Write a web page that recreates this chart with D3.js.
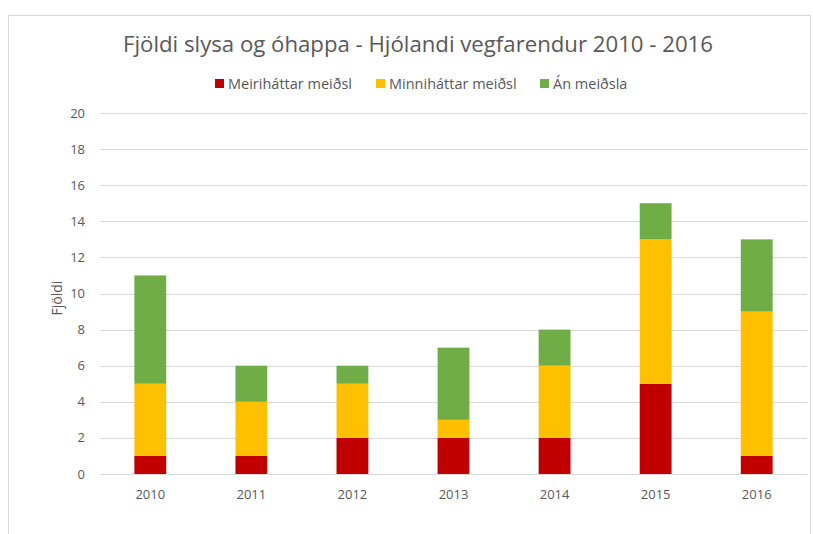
<!DOCTYPE html>
<html lang="en">
<head>
<meta charset="UTF-8">
<title>Fjöldi slysa og óhappa</title>
<script src="https://d3js.org/d3.v7.min.js"></script>
<style>
  html, body { margin: 0; padding: 0; background: #fff; }
  svg { display: block; }
  text { font-family: "Open Sans", sans-serif; fill: #595959; }
</style>
</head>
<body>
<svg id="canvas" width="813" height="534"></svg>
<script>
// chart data
const years = ["2010", "2011", "2012", "2013", "2014", "2015", "2016"];
const seriesNames = ["Meiriháttar meiðsl", "Minniháttar meiðsl", "Án meiðsla"];
const meirihattar = [1, 1, 2, 2, 2, 5, 1];
const minnihattar = [4, 3, 3, 1, 4, 8, 8];
const anMeidsla = [6, 2, 1, 4, 2, 2, 4];
const yTicks = [0, 2, 4, 6, 8, 10, 12, 14, 16, 18, 20];
const colors = ["#C00000", "#FFC000", "#70AD47"];

const rows = years.map((y, i) => ({
  year: y,
  [seriesNames[0]]: meirihattar[i],
  [seriesNames[1]]: minnihattar[i],
  [seriesNames[2]]: anMeidsla[i]
}));

const svg = d3.select('#canvas');

// outer chart border
svg.append('rect')
  .attr('x', 8.5).attr('y', 15.5)
  .attr('width', 802).attr('height', 530)
  .attr('fill', 'none').attr('stroke', '#d9d9d9');

const plotLeft = 100, plotRight = 807, plotTop = 113, plotBottom = 474;

let x = d3.scaleBand().domain(years).range([plotLeft, plotRight]).paddingInner(0.685).paddingOuter(0.34);
let y = d3.scaleLinear().domain([0, 20]).range([plotBottom, plotTop]);

// gridlines
svg.append('g')
  .selectAll('line')
  .data(yTicks)
  .enter()
  .append('line')
  .attr('x1', plotLeft).attr('x2', plotRight)
  .attr('y1', d => Math.round(y(d)) + 0.5)
  .attr('y2', d => Math.round(y(d)) + 0.5)
  .attr('stroke', '#d9d9d9')
  .attr('stroke-width', 1);

// y tick labels
svg.append('g')
  .selectAll('text')
  .data(yTicks)
  .enter()
  .append('text')
  .attr('x', 85)
  .attr('y', d => y(d))
  .attr('dy', '0.35em')
  .attr('text-anchor', 'end')
  .attr('font-size', 13)
  .attr('fill', '#666')
  .text(d => d);

// stacked bars
let stacked = d3.stack().keys(seriesNames)(rows);
svg.append('g')
  .selectAll('g')
  .data(stacked)
  .enter()
  .append('g')
  .attr('fill', (d, i) => colors[i])
  .selectAll('rect')
  .data(d => d)
  .enter()
  .append('rect')
  .attr('x', d => x(d.data.year))
  .attr('width', x.bandwidth())
  .attr('y', d => y(d[1]))
  .attr('height', d => y(d[0]) - y(d[1]));

// x axis labels
svg.append('g')
  .selectAll('text')
  .data(years)
  .enter()
  .append('text')
  .attr('x', d => x(d) + x.bandwidth() / 2)
  .attr('y', 499)
  .attr('text-anchor', 'middle')
  .attr('font-size', 13)
  .attr('fill', '#666')
  .text(d => d);

// y axis title
svg.append('text')
  .attr('transform', 'translate(62,298) rotate(-90)')
  .attr('text-anchor', 'middle')
  .attr('font-size', 14)
  .attr('fill', '#404040')
  .text('Fjöldi');

// chart title
svg.append('text')
  .attr('x', 418)
  .attr('y', 52)
  .attr('text-anchor', 'middle')
  .attr('font-size', 22.2)
  .text('Fjöldi slysa og óhappa - Hjólandi vegfarendur 2010 - 2016');

// legend
const legendX = [215, 376, 540];
let legend = svg.append('g')
  .selectAll('g')
  .data(seriesNames)
  .enter()
  .append('g')
  .attr('transform', (d, i) => `translate(${legendX[i]},84)`);
legend.append('rect')
  .attr('x', 0).attr('y', -5)
  .attr('width', 9).attr('height', 9)
  .attr('fill', (d, i) => colors[i]);
legend.append('text')
  .attr('x', 13)
  .attr('y', 0)
  .attr('dy', '0.35em')
  .attr('font-size', 14.5)
  .text(d => d);
</script>
</body>
</html>
